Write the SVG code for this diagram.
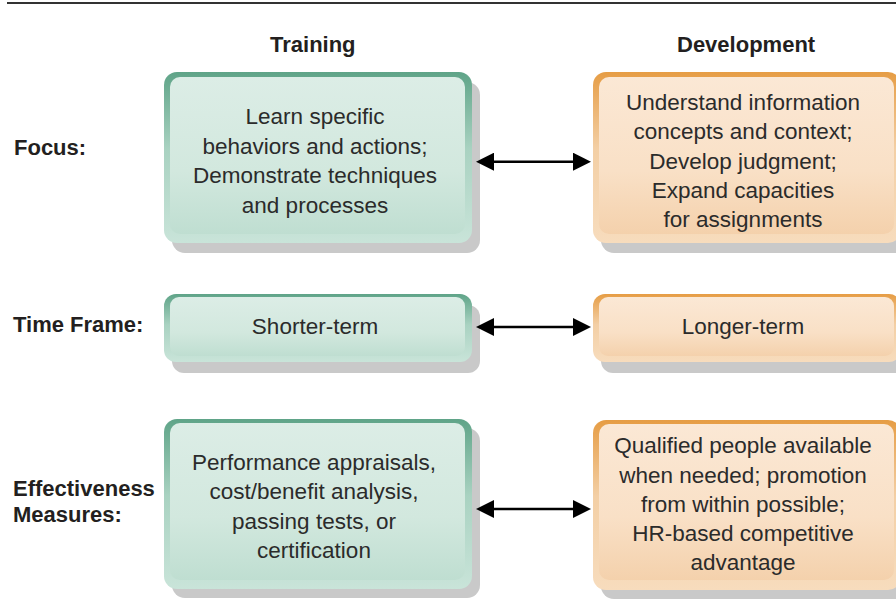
<svg xmlns="http://www.w3.org/2000/svg" width="896" height="613" viewBox="0 0 896 613">
<defs>
<linearGradient id="gOut" x1="0" y1="0" x2="0" y2="1">
<stop offset="0" stop-color="#5fa488"/>
<stop offset="0.45" stop-color="#a9d2c1"/>
<stop offset="1" stop-color="#c9e4d9"/>
</linearGradient>
<linearGradient id="gIn" x1="0" y1="0" x2="0" y2="1">
<stop offset="0" stop-color="#dcede6"/>
<stop offset="0.6" stop-color="#d2e8de"/>
<stop offset="1" stop-color="#bfded1"/>
</linearGradient>
<linearGradient id="oOut" x1="0" y1="0" x2="0" y2="1">
<stop offset="0" stop-color="#e69d45"/>
<stop offset="0.45" stop-color="#f3cfa5"/>
<stop offset="1" stop-color="#f7dcbd"/>
</linearGradient>
<linearGradient id="oIn" x1="0" y1="0" x2="0" y2="1">
<stop offset="0" stop-color="#fbe8d5"/>
<stop offset="0.6" stop-color="#f9e0c6"/>
<stop offset="1" stop-color="#f4d1ac"/>
</linearGradient>
<marker id="ah" markerUnits="userSpaceOnUse" viewBox="0 0 18 18" refX="2" refY="9" markerWidth="18" markerHeight="18" orient="auto-start-reverse">
<path d="M0,0 L18,9 L0,18 z" fill="#000"/>
</marker>
</defs>
<style>
.shadow{fill:#c9c9c9}
.lbl{font-family:"Liberation Sans",Arial,sans-serif;font-weight:bold;font-size:22px;fill:#231f20}
.body{font-family:"Liberation Sans",Arial,sans-serif;font-size:22.5px;fill:#2b2b2b;text-anchor:middle}
.conn line{stroke:#000;stroke-width:2.6;fill:none}
</style>
<rect x="0" y="0" width="896" height="613" fill="#fff"/>
<line x1="7" y1="3" x2="896" y2="3" stroke="#333" stroke-width="1.8"/>

<g id="headers">
<text class="lbl" x="270" y="52">Training</text>
<text class="lbl" x="677" y="52">Development</text>
</g>
<g id="row-labels">
<text class="lbl" x="14" y="155">Focus:</text>
<text class="lbl" x="13" y="332">Time Frame:</text>
<text class="lbl" x="13" y="496">Effectiveness</text>
<text class="lbl" x="13" y="522">Measures:</text>
</g>

<g id="train-focus">
<rect class="shadow" x="172" y="82" width="308" height="171" rx="13"/>
<rect x="164" y="72" width="308" height="171" rx="13" fill="url(#gOut)"/>
<rect x="170" y="77" width="295" height="157" rx="10" fill="url(#gIn)"/>
<text class="body" x="315" y="124">Learn specific</text>
<text class="body" x="315" y="153.5">behaviors and actions;</text>
<text class="body" x="315" y="183">Demonstrate techniques</text>
<text class="body" x="315" y="212.5">and processes</text>
</g>
<g id="dev-focus">
<rect class="shadow" x="601" y="82" width="308" height="171" rx="13"/>
<rect x="593" y="72" width="308" height="171" rx="13" fill="url(#oOut)"/>
<rect x="599" y="77" width="295" height="157" rx="10" fill="url(#oIn)"/>
<text class="body" x="743" y="110">Understand information</text>
<text class="body" x="743" y="139.3">concepts and context;</text>
<text class="body" x="743" y="168.6">Develop judgment;</text>
<text class="body" x="743" y="197.9">Expand capacities</text>
<text class="body" x="743" y="227.2">for assignments</text>
</g>

<g id="train-time">
<rect class="shadow" x="172" y="305" width="308" height="68" rx="12"/>
<rect x="164" y="294" width="308" height="68" rx="12" fill="url(#gOut)"/>
<rect x="170" y="297" width="295" height="59" rx="9" fill="url(#gIn)"/>
<text class="body" x="315" y="334">Shorter-term</text>
</g>
<g id="dev-time">
<rect class="shadow" x="601" y="305" width="308" height="68" rx="12"/>
<rect x="593" y="294" width="308" height="68" rx="12" fill="url(#oOut)"/>
<rect x="599" y="297" width="295" height="59" rx="9" fill="url(#oIn)"/>
<text class="body" x="743" y="334">Longer-term</text>
</g>

<g id="train-measures">
<rect class="shadow" x="172" y="428" width="308" height="170" rx="13"/>
<rect x="164" y="419" width="308" height="170" rx="13" fill="url(#gOut)"/>
<rect x="170" y="423" width="295" height="157" rx="10" fill="url(#gIn)"/>
<text class="body" x="314" y="470">Performance appraisals,</text>
<text class="body" x="314" y="499.3">cost/benefit analysis,</text>
<text class="body" x="314" y="528.5">passing tests, or</text>
<text class="body" x="314" y="557.7">certification</text>
</g>
<g id="dev-measures">
<rect class="shadow" x="601" y="429" width="308" height="170" rx="13"/>
<rect x="593" y="420" width="308" height="170" rx="13" fill="url(#oOut)"/>
<rect x="599" y="424" width="295" height="156" rx="10" fill="url(#oIn)"/>
<text class="body" x="743" y="453.3">Qualified people available</text>
<text class="body" x="743" y="482.7">when needed; promotion</text>
<text class="body" x="743" y="511.8">from within possible;</text>
<text class="body" x="743" y="541">HR-based competitive</text>
<text class="body" x="743" y="569.5">advantage</text>
</g>

<g id="connectors" class="conn">
<line x1="492" y1="161.7" x2="575" y2="161.7" marker-start="url(#ah)" marker-end="url(#ah)"/>
<line x1="492" y1="327" x2="575" y2="327" marker-start="url(#ah)" marker-end="url(#ah)"/>
<line x1="492" y1="509" x2="575" y2="509" marker-start="url(#ah)" marker-end="url(#ah)"/>
</g>
</svg>
